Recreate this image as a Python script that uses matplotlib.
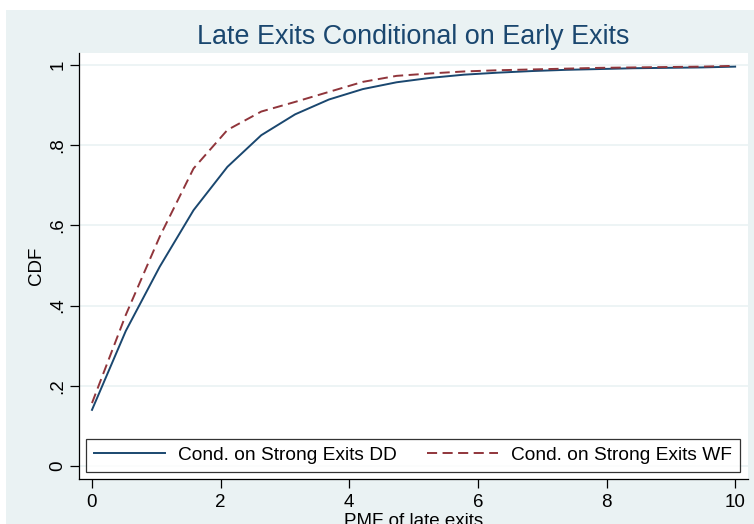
import matplotlib
matplotlib.use("Agg")
import matplotlib.pyplot as plt
from matplotlib.patches import Rectangle

plt.rcParams["font.family"] = ["Liberation Sans", "DejaVu Sans"]

# Data
x_vals = [0.0, 0.526, 1.053, 1.579, 2.105, 2.632, 3.158, 3.684, 4.211, 4.737,
          5.263, 5.789, 6.316, 6.842, 7.368, 7.895, 8.421, 8.947, 9.474, 10.0]
cdf_dd = [0.140, 0.337, 0.497, 0.638, 0.746, 0.825, 0.877, 0.914, 0.940, 0.957,
          0.968, 0.976, 0.981, 0.985, 0.988, 0.990, 0.992, 0.993, 0.994, 0.996]
cdf_wf = [0.157, 0.377, 0.572, 0.742, 0.838, 0.884, 0.908, 0.933, 0.958, 0.973,
          0.979, 0.984, 0.987, 0.989, 0.991, 0.993, 0.994, 0.995, 0.996, 0.998]
series_labels = ["Cond. on Strong Exits DD", "Cond. on Strong Exits WF"]
title = "Late Exits Conditional on Early Exits"
xlabel = "PMF of late exits"
ylabel = "CDF"
xticks = [0, 2, 4, 6, 8, 10]
yticks = [0, 0.2, 0.4, 0.6, 0.8, 1.0]
ytick_labels = ["0", ".2", ".4", ".6", ".8", "1"]

BG = "#EAF2F3"
NAVY = "#1a476f"
MAROON = "#90353b"

W, H = 754, 524
fig = plt.figure(figsize=(W / 100, H / 100), dpi=100, facecolor="white")
fig.patches.append(Rectangle((6 / W, 0), 1, 1 - 10 / H, transform=fig.transFigure,
                             facecolor=BG, edgecolor="none", zorder=-10))

ax = fig.add_axes([79 / W, 1 - 479 / H, (748 - 79) / W, (479 - 53) / H])
ax.set_facecolor("white")

ax.plot(x_vals, cdf_dd, color=NAVY, lw=1.4, label=series_labels[0], zorder=3)
ax.plot(x_vals, cdf_wf, color=MAROON, lw=1.4, linestyle=(0, (5.2, 2.8)),
        label=series_labels[1], zorder=3)

ax.set_xlim(-0.202, 10.2)
ax.set_ylim(-0.0324, 1.03)
ax.set_xticks(xticks)
ax.set_yticks(yticks)
ax.set_yticklabels(ytick_labels, rotation=90, va="center")
ax.grid(axis="y", color=BG, lw=1.2, zorder=0)
ax.set_axisbelow(True)

for s in ["top", "right"]:
    ax.spines[s].set_visible(False)
for s in ["left", "bottom"]:
    ax.spines[s].set_color("#000000")
    ax.spines[s].set_linewidth(0.9)

ax.tick_params(axis="both", labelsize=13.5, length=6.5, width=0.9, colors="black")
ax.tick_params(axis="x", pad=4)
ax.tick_params(axis="y", pad=2.5)

ax.set_xlabel(xlabel, fontsize=13.5, labelpad=2)
ax.set_ylabel(ylabel, fontsize=13.5)
ax.yaxis.set_label_coords(-0.051, 0.5)

fig.text((79 + 748) / 2 / W, 1 - 37 / H, title, ha="center", va="center",
         fontsize=19.4, color=NAVY)

leg = ax.legend(loc="lower left", bbox_to_anchor=(7 / 669, 7 / 426),
                ncol=2, fontsize=13.75, handlelength=3.7, handletextpad=0.68,
                columnspacing=1.6, frameon=True, fancybox=False,
                borderaxespad=0, borderpad=0.42)
leg.get_frame().set_edgecolor("black")
leg.get_frame().set_linewidth(0.9)

fig.savefig("out.png", dpi=100, facecolor="white")
